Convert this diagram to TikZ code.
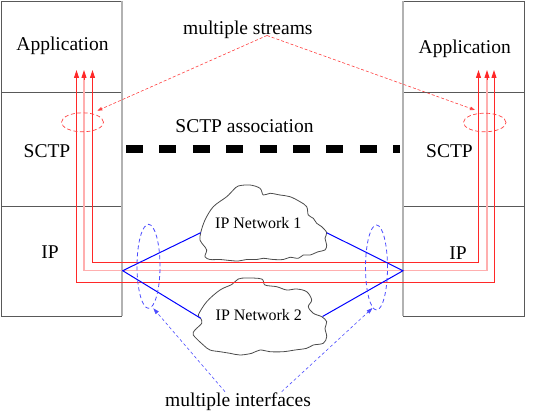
\documentclass[tikz,border=0pt]{standalone}
\usepackage{fontspec}
\setmainfont{Liberation Serif}
\usetikzlibrary{arrows.meta}
\definecolor{streamred}{RGB}{255,40,40}
\definecolor{streampink}{RGB}{255,175,175}
\begin{document}
\begin{tikzpicture}[x=1pt,y=-1pt,
  boxline/.style={draw=black!65,line width=0.8pt},
  inneredge/.style={draw=black!30,line width=2pt},
  bigtxt/.style={font=\fontsize{19.5}{23}\selectfont,inner sep=0pt,anchor=base},
  smalltxt/.style={font=\fontsize{16}{19}\selectfont,inner sep=0pt,anchor=base},
  stream/.style={color=streamred,line width=1pt,-{Triangle[length=8pt,width=5pt]}},
  streammid/.style={color=streampink,line width=1.8pt},
  redptr/.style={draw=red!75,line width=0.6pt,dash pattern=on 3pt off 2pt,-{Triangle[length=5pt,width=3.5pt]}},
  blueptr/.style={draw=blue!70,line width=0.6pt,dash pattern=on 3pt off 2.5pt,-{Triangle[length=6pt,width=4pt]}},
  redring/.style={draw=red!75,line width=0.7pt,dash pattern=on 4pt off 2.5pt},
  bluering/.style={draw=blue!70,line width=0.8pt,dash pattern=on 4pt off 3pt},
  link/.style={draw=blue,line width=1pt},
  cloudline/.style={draw=black!70,line width=0.8pt,fill=white},
  assoc/.style={draw=black,line width=7.5pt,dash pattern=on 17pt off 16.4pt}
]
\useasboundingbox (0,0) rectangle (540,414);

% ---- host boxes
\draw[boxline] (1,1) rectangle (121.7,316);
\draw[boxline] (1,92) -- (121.7,92);
\draw[boxline] (1,206) -- (121.7,206);
\draw[inneredge] (121.7,1) -- (121.7,316);

\draw[boxline] (403,1) rectangle (524,316);
\draw[boxline] (403,92) -- (524,92);
\draw[boxline] (403,206) -- (524,206);
\draw[inneredge] (403,1) -- (403,316);

% ---- layer labels
\node[bigtxt] (appL) at (62.5,50.7) {Application};
\node[bigtxt] (sctpL) at (47,157.3) {SCTP};
\node[bigtxt] (ipL) at (50,258.3) {IP};
\node[bigtxt] (appR) at (464.7,54) {Application};
\node[bigtxt] (sctpR) at (449.5,157.3) {SCTP};
\node[bigtxt] (ipR) at (458,259) {IP};

% ---- association
\coordinate (asA) at (126,149);
\coordinate (asB) at (399.5,149);
\draw[assoc] (asA) -- (asB);
\node[bigtxt] (assocT) at (244.5,133) {SCTP association};

% ---- clouds
\draw[cloudline] plot[smooth cycle,tension=0.55] coordinates {
 (200.7,232.7) (205,220) (213.3,206.7) (226.7,196.7) (233.3,190) (238.3,186)
 (250,185) (260,188.3) (263.3,195) (270,193.3) (280,195) (290,196.7)
 (300,201.7) (306.7,206.7) (308.3,215) (313.3,218.3) (316.7,223.3) (321.7,226.7)
 (326.7,232.7) (325,238.3) (326.7,245) (325,250) (318.3,251.7) (310,255)
 (303.3,255) (298.3,258.3) (290,257.3) (283.3,259.5) (273.3,259.5) (263.3,258.3)
 (256.7,259.5) (246.7,259.5) (238.3,261) (230,260.5) (220,259.5) (210,259.5)
 (205,256.7) (206.7,250) (203.3,245) (200,240)};
\draw[cloudline] plot[smooth cycle,tension=0.55] coordinates {
 (200.7,318.3) (198.3,315) (206.7,301.7) (220,290) (231.7,284.5) (238.3,279)
 (246.7,278) (261.7,279) (265,285) (276.7,286.7) (286.7,290) (296.7,289)
 (306.7,291.7) (311.7,300) (308.3,306.7) (313.3,313.3) (321.7,316.7) (326.7,321.7)
 (325,328.3) (326.7,336.7) (323.3,343.3) (313.3,345) (306.7,348.3) (295,350)
 (283.3,351.7) (270,351.7) (260,350) (251.7,353.3) (240,355) (230,353.3)
 (220,351.7) (210,350) (203.3,345) (193.3,335) (195,330) (201.7,323.3)};
\node[smalltxt] (net1) at (258.3,228.3) {IP Network 1};
\node[smalltxt] (net2) at (258.8,320) {IP Network 2};

% ---- stream paths (red)
\draw[stream] (494,282.5) -- (76.5,282.5) -- (76.5,70);
\draw[stream] (494,282.5) -- (494,70);
\draw[streammid] (487,270.5) -- (84,270.5) -- (84,77);
\draw[streammid] (487,270.5) -- (487,77);
\draw[stream] (84,80) -- (84,70);
\draw[stream] (487,80) -- (487,70);
\draw[stream] (478.5,262.5) -- (92.5,262.5) -- (92.5,70);
\draw[stream] (478.5,262.5) -- (478.5,70);

% ---- interface links (blue)
\coordinate (apL) at (122.7,270.7);
\coordinate (apR) at (403,270.7);
\coordinate (c1L) at (200.7,232.7);
\coordinate (c1R) at (326.7,232.7);
\coordinate (c2L) at (200.7,318.3);
\coordinate (c2R) at (322.5,316.5);
\draw[link] (c1L) -- (apL) -- (c2L);
\draw[link] (c1R) -- (apR) -- (c2R);

% ---- rings
\draw[redring] (82.5,122.3) ellipse (21pt and 9.5pt);
\draw[redring] (484.7,122.5) ellipse (21.3pt and 9.3pt);
\draw[bluering] (148.5,266.3) ellipse (11.5pt and 42pt);
\draw[bluering] (376.5,267.5) ellipse (11pt and 42.5pt);

% ---- annotations
\node[bigtxt] (streamsT) at (247.8,35) {multiple streams};
\coordinate (stTip) at (267,35.5);
\coordinate (ringL) at (97.3,110.7);
\coordinate (ringR) at (475,110);
\draw[redptr] (stTip) -- (ringL);
\draw[redptr] (stTip) -- (ringR);

\node[bigtxt] (ifT) at (238,406) {multiple interfaces};
\coordinate (ifA) at (225,391.7);
\coordinate (ifB) at (281.7,391.7);
\coordinate (bringL) at (153.3,308.3);
\coordinate (bringR) at (372.5,308);
\draw[blueptr] (ifA) -- (bringL);
\draw[blueptr] (ifB) -- (bringR);
\end{tikzpicture}
\end{document}
